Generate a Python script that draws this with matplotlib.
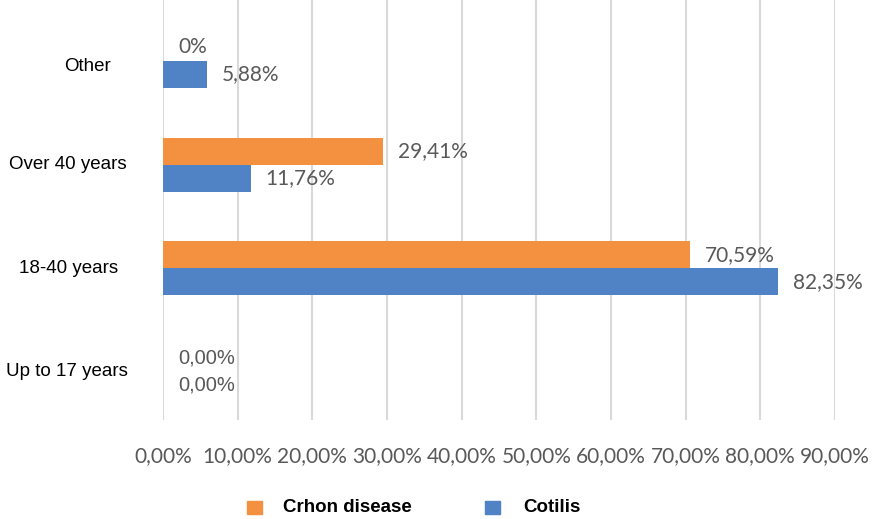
import matplotlib.pyplot as plt
import numpy as np
from matplotlib.patches import Rectangle

# age groups, bottom to top
categories = ["Up to 17 years", "18-40 years", "Over 40 years", "Other"]
crohn = [0.0, 70.59, 29.41, 0.0]
colitis = [0.0, 82.35, 11.76, 5.88]
crohn_labels = ["0,00%", "70,59%", "29,41%", "0%"]
colitis_labels = ["0,00%", "82,35%", "11,76%", "5,88%"]
xticks = [0, 10, 20, 30, 40, 50, 60, 70, 80, 90]
series_names = ["Crhon disease", "Cotilis"]

ORANGE = "#F39141"
BLUE = "#5082C6"
GREY = "#595959"

W, H = 873, 519
fig = plt.figure(figsize=(W / 100, H / 100), dpi=100)
ax = fig.add_axes([0.1867, 0.1908, 0.7698, 0.8092])

y = np.arange(len(categories))
h = 0.26
ax.barh(y + h / 2, crohn, height=h, color=ORANGE, zorder=3)
ax.barh(y - h / 2, colitis, height=h, color=BLUE, zorder=3)

for i in range(len(categories)):
    # the empty youngest group uses a plainer font in its labels
    fam = "Liberation Sans" if i == 0 else "Lato"
    fs = 14.5 if i == 0 else 15
    ax.text(crohn[i] + 2.0, y[i] + h / 2, crohn_labels[i], va="center", ha="left",
            color=GREY, fontsize=fs, family=fam)
    ax.text(colitis[i] + 2.0, y[i] - h / 2, colitis_labels[i], va="center", ha="left",
            color=GREY, fontsize=fs, family=fam)

ax.set_xlim(0, 90)
ax.set_ylim(-0.463, 3.588)
ax.set_xticks(xticks)
ax.set_xticklabels([f"{t},00%" for t in xticks], family="Lato", fontsize=15, color=GREY)
ax.set_yticks(y)
ax.set_yticklabels([])
ax.tick_params(axis="both", length=0)
ax.tick_params(axis="x", pad=19)
ax.grid(axis="x", color="#d9d9d9", linewidth=1.5, zorder=0)
for s in ax.spines.values():
    s.set_visible(False)

# category names in the left margin (centre x in px, small y nudge in px)
label_x = [67, 69, 68, 88]
label_dy = [0, 0, 0, 6]
for i, name in enumerate(categories):
    ax.annotate(name, xy=(0, y[i]), xycoords=("axes fraction", "data"),
                xytext=(label_x[i] - 163, -label_dy[i]), textcoords="offset pixels",
                ha="center", va="center", family="Liberation Sans",
                fontsize=13.5, color="black")

# legend drawn by hand: small squares with bold names
leg_y = 1 - 507 / H
for x0, tx, col, name in [(247, 283, ORANGE, series_names[0]),
                          (485, 523, BLUE, series_names[1])]:
    fig.add_artist(Rectangle((x0 / W, leg_y - 6.5 / H), 15 / W, 13 / H,
                             transform=fig.transFigure, color=col))
    fig.text(tx / W, leg_y, name, ha="left", va="center", fontweight="bold",
             family="Liberation Sans", fontsize=13.5, color="black")

fig.savefig("out.png", dpi=100)
